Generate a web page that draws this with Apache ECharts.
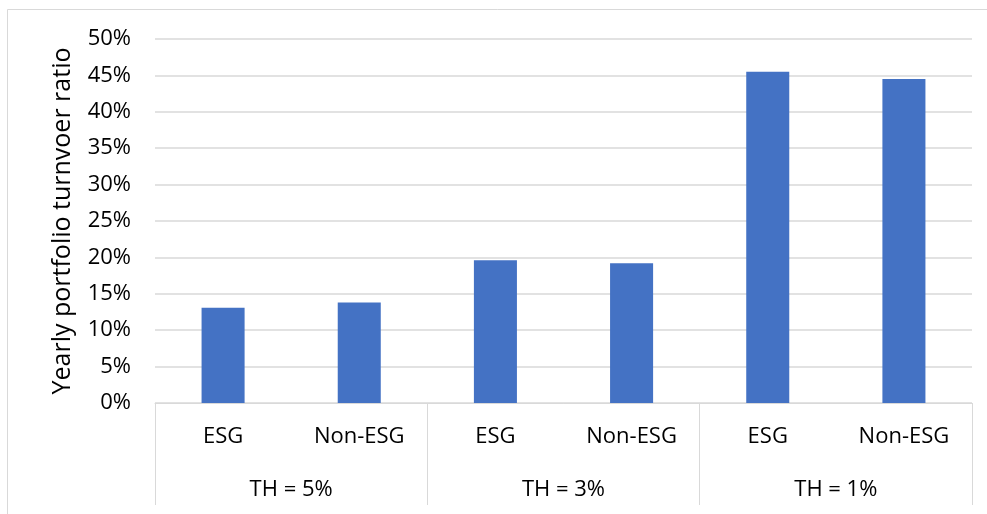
<!DOCTYPE html>
<html>
<head>
<meta charset="utf-8">
<script src="https://cdn.jsdelivr.net/npm/echarts@6/dist/echarts.min.js"></script>
<style>
  html, body { margin: 0; padding: 0; background: #ffffff; }
  #chart { width: 987px; height: 514px; }
</style>
</head>
<body>
<div id="chart"></div>
<script>
// Portfolio labels under each bar, and the threshold groups beneath them
const portfolios = ['ESG', 'Non-ESG', 'ESG', 'Non-ESG', 'ESG', 'Non-ESG'];
const thresholds = ['TH = 5%', 'TH = 3%', 'TH = 1%'];
// Yearly turnover ratio, in percent
const turnover = [13.1, 13.8, 19.6, 19.2, 45.5, 44.5];

const FONT = '"Open Sans", "Noto Sans", sans-serif';
const TEXT = '#000000';
const GRID_GREY = '#d9d9d9';

const chart = echarts.init(document.getElementById('chart'), null, { renderer: 'canvas' });

chart.setOption({
  animation: false,
  backgroundColor: '#ffffff',
  textStyle: { fontFamily: FONT },
  graphic: [{
    type: 'rect',
    silent: true,
    shape: { x: 7.5, y: 9.5, width: 1000, height: 600 },
    style: { fill: 'none', stroke: GRID_GREY, lineWidth: 1 }
  }],
  grid: { left: 155, right: 15, top: 39, bottom: 111, containLabel: false },
  xAxis: [
    {
      type: 'category',
      data: portfolios,
      position: 'bottom',
      axisLine: { show: true, lineStyle: { color: GRID_GREY, width: 1 } },
      axisTick: { show: false },
      axisLabel: { color: TEXT, fontSize: 22, fontFamily: FONT, margin: 23, interval: 0 },
      splitLine: { show: false }
    },
    {
      type: 'category',
      data: thresholds,
      position: 'bottom',
      axisLine: { show: false },
      axisTick: { show: true, length: 102, lineStyle: { color: GRID_GREY, width: 1 } },
      axisLabel: { color: TEXT, fontSize: 22, fontFamily: FONT, margin: 76, interval: 0 },
      splitLine: { show: false }
    }
  ],
  yAxis: {
    type: 'value',
    min: 0,
    max: 50,
    interval: 5,
    name: 'Yearly portfolio turnvoer ratio',
    nameLocation: 'middle',
    nameRotate: 90,
    nameGap: 80,
    nameTextStyle: { color: TEXT, fontSize: 25, fontFamily: FONT },
    axisLine: { show: false },
    axisTick: { show: false },
    axisLabel: { color: TEXT, fontSize: 22, fontFamily: FONT, margin: 24, formatter: '{value}%' },
    splitLine: { show: true, lineStyle: { color: GRID_GREY, width: 1.5 } }
  },
  series: [{
    type: 'bar',
    xAxisIndex: 0,
    data: turnover,
    barWidth: '31.6%',
    itemStyle: { color: '#4472C4' }
  }]
});
</script>
</body>
</html>
